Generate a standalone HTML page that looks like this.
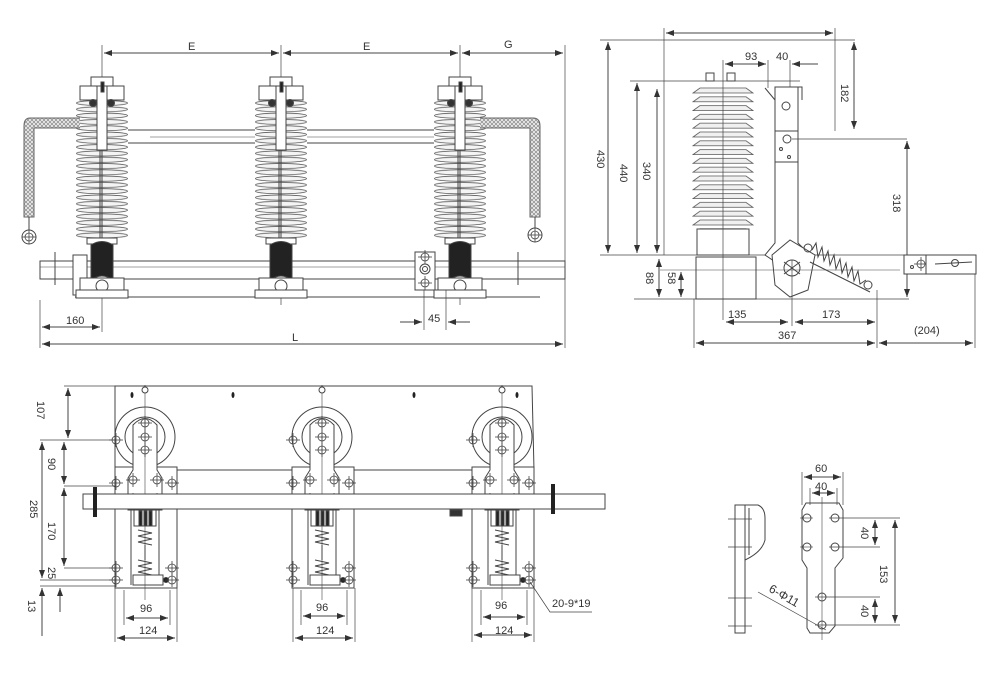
<!DOCTYPE html>
<html><head><meta charset="utf-8"><style>
html,body{margin:0;padding:0;background:#fff}
svg{display:block}
text{font-family:"Liberation Sans",sans-serif;font-size:11px;fill:#333}
</style></head><body>
<svg width="1000" height="690" viewBox="0 0 1000 690" xmlns="http://www.w3.org/2000/svg">
<defs>
<marker id="a" markerWidth="8" markerHeight="6" refX="8" refY="3" orient="auto-start-reverse" markerUnits="userSpaceOnUse"><path d="M0,0 L8,3 L0,6 z" fill="#333"/></marker>
<pattern id="shed" width="52" height="6.3" patternUnits="userSpaceOnUse" x="-26" y="100">
<rect width="52" height="6.3" fill="#fff"/>
<ellipse cx="26" cy="3" rx="25.5" ry="2.6" fill="#f4f4f4" stroke="#555" stroke-width="0.8"/>
</pattern>
<pattern id="shed2" width="62" height="8.8" patternUnits="userSpaceOnUse" x="692" y="87">
<rect width="62" height="8.8" fill="#fff"/>
<path d="M8,1 L54,1 L61,6 L1,6 Z" fill="#f0f0f0" stroke="#555" stroke-width="0.8"/>
</pattern>
<pattern id="braid" width="4" height="4" patternUnits="userSpaceOnUse">
<rect width="4" height="4" fill="#eee"/>
<path d="M0,0 L4,4 M4,0 L0,4" stroke="#888" stroke-width="0.7"/>
</pattern>
<g id="ins" stroke="#444" fill="none" stroke-width="1">
<rect x="-26" y="100" width="52" height="138" fill="url(#shed)" stroke="none"/>
<rect x="-11" y="77" width="22" height="9" fill="#fff"/>
<rect x="-22" y="86" width="44" height="14" fill="#fff"/>
<circle cx="-9" cy="103" r="3.5" fill="#333"/><circle cx="9" cy="103" r="3.5" fill="#333"/>
<rect x="-5" y="86" width="10" height="64" fill="#fff"/>
<rect x="-1" y="82" width="3" height="10" fill="#222"/>
<line x1="0" y1="150" x2="0" y2="240"/><line x1="-2" y1="150" x2="-2" y2="240"/>
<rect x="-15" y="238" width="30" height="6" fill="#fff"/>
<path d="M-11,245 Q0,238 11,245 L11,280 Q0,272 -11,280 Z" fill="#222"/>
<rect x="-22" y="278" width="44" height="12" fill="#fff"/>
<circle cx="0" cy="286" r="6" fill="#fff"/>
<rect x="-26" y="290" width="52" height="8" fill="#fff"/>
</g>
<g id="ch" stroke="#444" fill="none" stroke-width="0.8">
<circle r="4"/><line x1="-7" y1="0" x2="7" y2="0"/><line x1="0" y1="-7" x2="0" y2="7"/>
</g>
<g id="phase" stroke="#444" fill="none" stroke-width="1">
<rect x="115" y="467" width="62" height="121" fill="#fff"/>
<circle cx="145" cy="437" r="30" fill="#fff"/>
<circle cx="145" cy="437" r="20"/>
<path d="M133,470 L133,425 Q145,412 157,425 L157,470 L162,478 L162,510 L128,510 L128,478 Z" fill="#fff"/>
<line x1="131" y1="510" x2="131" y2="585"/><line x1="159" y1="510" x2="159" y2="585"/>
<rect x="134" y="510" width="22" height="16" fill="#fff"/>
<rect x="139" y="511" width="3" height="15" fill="#222"/><rect x="144" y="511" width="3" height="15" fill="#222"/><rect x="149" y="511" width="3" height="15" fill="#222"/>
<polyline points="138,530 152,533 138,536 152,539 138,542 152,545"/>
<line x1="145" y1="545" x2="145" y2="560"/>
<polyline points="138,560 152,563 138,566 152,569 138,572 152,575"/>
<rect x="133" y="575" width="30" height="10" fill="#fff"/>
<circle cx="166" cy="580" r="2.5" fill="#222"/>
<line x1="145" y1="385" x2="145" y2="600" stroke-width="0.6"/>
<circle cx="145" cy="390" r="3" fill="#fff"/>
<use href="#ch" x="145" y="423"/><use href="#ch" x="145" y="437"/><use href="#ch" x="145" y="450"/>
<use href="#ch" x="116" y="440"/><use href="#ch" x="116" y="483"/><use href="#ch" x="133" y="480"/><use href="#ch" x="157" y="480"/><use href="#ch" x="172" y="483"/>
<use href="#ch" x="133" y="500"/><use href="#ch" x="157" y="500"/>
<use href="#ch" x="116" y="568"/><use href="#ch" x="172" y="568"/><use href="#ch" x="116" y="580"/><use href="#ch" x="172" y="580"/>
</g>
</defs>

<g stroke="#444" fill="none" stroke-width="1">
<line x1="102" y1="45" x2="102" y2="332" stroke-width="0.7"/>
<line x1="281" y1="45" x2="281" y2="305" stroke-width="0.7"/>
<line x1="460" y1="45" x2="460" y2="305" stroke-width="0.7"/>
<line x1="565" y1="45" x2="565" y2="348" stroke-width="0.7"/>
<line x1="40" y1="300" x2="40" y2="348" stroke-width="0.7"/>
<line x1="104" y1="53" x2="279" y2="53" marker-start="url(#a)" marker-end="url(#a)"/>
<line x1="283" y1="53" x2="458" y2="53" marker-start="url(#a)" marker-end="url(#a)"/>
<line x1="462" y1="53" x2="563" y2="53" marker-start="url(#a)" marker-end="url(#a)"/>
<line x1="110" y1="130" x2="455" y2="130"/><line x1="110" y1="143" x2="455" y2="143"/>
<line x1="150" y1="137" x2="455" y2="137" stroke-width="0.6"/>
<rect x="40" y="261" width="525" height="18" fill="#fff"/>
<line x1="40" y1="267" x2="565" y2="267" stroke-width="0.6"/>
<line x1="75" y1="297" x2="540" y2="297"/>
<line x1="55" y1="252" x2="55" y2="285"/><line x1="518" y1="252" x2="518" y2="285"/>
<rect x="415" y="252" width="20" height="38" fill="#fff"/>
<circle cx="425" cy="269" r="5"/><circle cx="425" cy="269" r="2.5"/>
<use href="#ch" x="425" y="257"/><use href="#ch" x="425" y="283"/>
<rect x="73" y="255" width="14" height="40" fill="#fff"/>
<use href="#ins" x="102"/><use href="#ins" x="281"/><use href="#ins" x="460"/>
<path d="M80,118 L30,118 Q24,118 24,126 L24,217 L34,217 L34,128 L80,128" fill="url(#braid)" stroke="#666"/>
<path d="M480,118 L533,118 Q540,118 540,126 L540,217 L530,217 L530,128 L480,128" fill="url(#braid)" stroke="#666"/>
<line x1="29" y1="217" x2="29" y2="230"/><circle cx="29" cy="237" r="7" fill="#fff"/><use href="#ch" x="29" y="237"/>
<line x1="535" y1="217" x2="535" y2="228"/><circle cx="535" cy="235" r="7" fill="#fff"/><use href="#ch" x="535" y="235"/>
<line x1="42" y1="327" x2="100" y2="327" marker-start="url(#a)" marker-end="url(#a)"/>
<line x1="42" y1="344" x2="563" y2="344" marker-start="url(#a)" marker-end="url(#a)"/>
<line x1="424" y1="290" x2="424" y2="330" stroke-width="0.7"/><line x1="446" y1="290" x2="446" y2="330" stroke-width="0.7"/>
<line x1="400" y1="322" x2="422" y2="322" marker-end="url(#a)"/><line x1="470" y1="322" x2="448" y2="322" marker-end="url(#a)"/>

<line x1="600" y1="40" x2="855" y2="40" stroke-width="0.7"/>
<line x1="664" y1="28" x2="664" y2="255" stroke-width="0.7"/>
<line x1="835" y1="28" x2="835" y2="131" stroke-width="0.7"/>
<line x1="666" y1="33" x2="833" y2="33" marker-start="url(#a)" marker-end="url(#a)"/>
<line x1="608" y1="42" x2="608" y2="253" marker-start="url(#a)" marker-end="url(#a)"/>
<line x1="630" y1="81" x2="800" y2="81" stroke-width="0.7"/>
<line x1="637" y1="83" x2="637" y2="253" marker-start="url(#a)" marker-end="url(#a)"/>
<line x1="657" y1="89" x2="657" y2="253" marker-start="url(#a)" marker-end="url(#a)"/>
<line x1="854" y1="42" x2="854" y2="129" marker-start="url(#a)" marker-end="url(#a)"/>
<line x1="600" y1="255" x2="976" y2="255" stroke-width="0.8"/>
<line x1="634" y1="299" x2="909" y2="299" stroke-width="0.8"/>
<rect x="692" y="87" width="62" height="142" fill="url(#shed2)" stroke="none"/>
<rect x="697" y="229" width="52" height="26" fill="#fff"/>
<rect x="696" y="257" width="60" height="42" fill="#fff"/>
<rect x="706" y="73" width="8" height="8"/><rect x="727" y="73" width="8" height="8"/>
<line x1="723" y1="60" x2="723" y2="320" stroke-width="0.7"/>
<line x1="725" y1="64" x2="766" y2="64" marker-start="url(#a)" marker-end="url(#a)"/>
<line x1="768" y1="60" x2="768" y2="88" stroke-width="0.7"/>
<line x1="790" y1="60" x2="790" y2="88" stroke-width="0.7"/>
<line x1="818" y1="64" x2="792" y2="64" marker-end="url(#a)"/>
<path d="M775,87 L798,87 L798,131 L775,131 Z" fill="#fff"/>
<circle cx="786" cy="106" r="4"/>
<path d="M765,88 L775,100" /><path d="M798,87 L802,87 L802,100"/>
<path d="M775,131 L798,131 L798,243 L805,250 L780,265 L765,255 L775,243 Z" fill="#fff"/>
<line x1="775" y1="162" x2="798" y2="162"/>
<circle cx="787" cy="139" r="4"/><circle cx="781" cy="149" r="1.5"/><circle cx="789" cy="157" r="1.5"/>
<line x1="792" y1="139" x2="907" y2="139" stroke-width="0.7"/>
<line x1="907" y1="141" x2="907" y2="297" marker-start="url(#a)" marker-end="url(#a)"/>
<path d="M772,255 L790,240 L815,255 L808,290 L790,297 L775,285 Z" fill="#fff"/>
<circle cx="792" cy="268" r="8"/><line x1="784" y1="262" x2="800" y2="274"/><line x1="800" y1="262" x2="784" y2="274"/>
<circle cx="808" cy="248" r="4"/><circle cx="868" cy="285" r="4"/>
<polyline points="812,250 816,243 818,257 822,247 824,261 828,251 830,265 834,255 836,269 840,259 842,273 846,263 848,277 852,267 854,281 858,271 860,284 866,280" stroke-width="1"/>
<line x1="810" y1="262" x2="870" y2="292"/>
<rect x="904" y="255" width="22" height="19" fill="#fff"/><use href="#ch" x="921" y="264"/><circle cx="912" cy="267" r="1.5"/>
<rect x="926" y="255" width="50" height="19" fill="#fff"/><circle cx="955" cy="263" r="3.5"/><line x1="935" y1="264" x2="972" y2="262"/>
<line x1="660" y1="270" x2="900" y2="270" stroke-width="0.6"/>
<line x1="659" y1="259" x2="659" y2="297" marker-start="url(#a)" marker-end="url(#a)"/>
<line x1="681" y1="272" x2="681" y2="297" marker-start="url(#a)" marker-end="url(#a)"/>
<line x1="694" y1="299" x2="694" y2="348" stroke-width="0.7"/>
<line x1="792" y1="260" x2="792" y2="326" stroke-width="0.7"/>
<line x1="877" y1="290" x2="877" y2="348" stroke-width="0.7"/>
<line x1="975" y1="274" x2="975" y2="348" stroke-width="0.7"/>
<line x1="726" y1="322" x2="788" y2="322" marker-start="url(#a)" marker-end="url(#a)"/>
<line x1="795" y1="322" x2="875" y2="322" marker-start="url(#a)" marker-end="url(#a)"/>
<line x1="696" y1="343" x2="875" y2="343" marker-start="url(#a)" marker-end="url(#a)"/>
<line x1="879" y1="343" x2="973" y2="343" marker-start="url(#a)" marker-end="url(#a)"/>

<line x1="64" y1="386" x2="532" y2="386" stroke-width="0.8"/>
<path d="M115,386 L532,386 L534,470 L115,470 Z" fill="#fff"/>
<use href="#phase"/>
<use href="#phase" x="177"/>
<use href="#phase" x="357"/>
<rect x="83" y="494" width="522" height="15" fill="#fff"/>
<rect x="93" y="487" width="4" height="30" fill="#222" stroke="none"/>
<rect x="551" y="484" width="4" height="30" fill="#222" stroke="none"/>
<path d="M450,510 L462,510 L462,516 L450,516 Z" fill="#333"/>
<ellipse cx="132" cy="395" rx="1.5" ry="3" fill="#222" stroke="none"/>
<ellipse cx="233" cy="395" rx="1.5" ry="3" fill="#222" stroke="none"/>
<ellipse cx="414" cy="395" rx="1.5" ry="3" fill="#222" stroke="none"/>
<ellipse cx="517" cy="395" rx="1.5" ry="3" fill="#222" stroke="none"/>
<line x1="68" y1="388" x2="68" y2="438" marker-start="url(#a)" marker-end="url(#a)"/>
<line x1="40" y1="440" x2="116" y2="440" stroke-width="0.7"/>
<line x1="64" y1="442" x2="64" y2="484" marker-start="url(#a)" marker-end="url(#a)"/>
<line x1="64" y1="486" x2="116" y2="486" stroke-width="0.7"/>
<line x1="64" y1="488" x2="64" y2="566" marker-start="url(#a)" marker-end="url(#a)"/>
<line x1="64" y1="568" x2="116" y2="568" stroke-width="0.7"/>
<line x1="42" y1="442" x2="42" y2="578" marker-start="url(#a)" marker-end="url(#a)"/>
<line x1="40" y1="580" x2="116" y2="580" stroke-width="0.7"/>
<line x1="40" y1="586" x2="116" y2="586" stroke-width="0.7"/>
<line x1="42" y1="636" x2="42" y2="588" marker-end="url(#a)"/>
<line x1="60" y1="612" x2="60" y2="588" marker-end="url(#a)"/>
<line x1="124" y1="590" x2="124" y2="625" stroke-width="0.7"/><line x1="170" y1="590" x2="170" y2="625" stroke-width="0.7"/>
<line x1="115" y1="588" x2="115" y2="642" stroke-width="0.7"/><line x1="177" y1="588" x2="177" y2="642" stroke-width="0.7"/>
<line x1="126" y1="618" x2="168" y2="618" marker-start="url(#a)" marker-end="url(#a)"/>
<line x1="117" y1="638" x2="175" y2="638" marker-start="url(#a)" marker-end="url(#a)"/>
<line x1="301" y1="590" x2="301" y2="625" stroke-width="0.7"/><line x1="347" y1="590" x2="347" y2="625" stroke-width="0.7"/>
<line x1="293" y1="588" x2="293" y2="642" stroke-width="0.7"/><line x1="355" y1="588" x2="355" y2="642" stroke-width="0.7"/>
<line x1="303" y1="616" x2="345" y2="616" marker-start="url(#a)" marker-end="url(#a)"/>
<line x1="295" y1="638" x2="353" y2="638" marker-start="url(#a)" marker-end="url(#a)"/>
<line x1="481" y1="590" x2="481" y2="625" stroke-width="0.7"/><line x1="527" y1="590" x2="527" y2="625" stroke-width="0.7"/>
<line x1="472" y1="588" x2="472" y2="642" stroke-width="0.7"/><line x1="534" y1="588" x2="534" y2="642" stroke-width="0.7"/>
<line x1="483" y1="617" x2="525" y2="617" marker-start="url(#a)" marker-end="url(#a)"/>
<line x1="474" y1="635" x2="532" y2="635" marker-start="url(#a)" marker-end="url(#a)"/>
<polyline points="530,582 550,612 592,612" stroke-width="0.7"/>

<rect x="735" y="505" width="10" height="128" fill="#fff"/>
<path d="M745,505 L758,505 Q765,508 765,518 L765,540 Q762,552 745,560" />
<path d="M749,508 L749,555"/>
<line x1="728" y1="519" x2="752" y2="519" stroke-width="0.7"/><line x1="728" y1="547" x2="752" y2="547" stroke-width="0.7"/>
<line x1="728" y1="598" x2="752" y2="598" stroke-width="0.7"/><line x1="728" y1="626" x2="752" y2="626" stroke-width="0.7"/>
<path d="M806,503 L839,503 L843,510 L843,558 L835,568 L835,626 L829,633 L810,633 L807,628 L807,568 L802,560 L802,510 Z" fill="#fff"/>
<line x1="822" y1="497" x2="822" y2="640" stroke-width="0.6"/>
<circle cx="807" cy="518" r="4"/><circle cx="835" cy="518" r="4"/><circle cx="807" cy="547" r="4"/><circle cx="835" cy="547" r="4"/>
<circle cx="822" cy="597" r="4"/><circle cx="822" cy="625" r="4"/>
<line x1="800" y1="518" x2="813" y2="518" stroke-width="0.6"/><line x1="829" y1="518" x2="900" y2="518" stroke-width="0.7"/>
<line x1="800" y1="547" x2="813" y2="547" stroke-width="0.6"/><line x1="829" y1="547" x2="880" y2="547" stroke-width="0.7"/>
<line x1="815" y1="597" x2="880" y2="597" stroke-width="0.7"/>
<line x1="815" y1="625" x2="900" y2="625" stroke-width="0.7"/>
<line x1="802" y1="472" x2="802" y2="505" stroke-width="0.7"/><line x1="843" y1="472" x2="843" y2="505" stroke-width="0.7"/>
<line x1="810" y1="488" x2="810" y2="505" stroke-width="0.7"/><line x1="837" y1="488" x2="837" y2="505" stroke-width="0.7"/>
<line x1="804" y1="477" x2="841" y2="477" marker-start="url(#a)" marker-end="url(#a)"/>
<line x1="812" y1="493" x2="835" y2="493" marker-start="url(#a)" marker-end="url(#a)"/>
<line x1="875" y1="520" x2="875" y2="545" marker-start="url(#a)" marker-end="url(#a)"/>
<line x1="875" y1="599" x2="875" y2="623" marker-start="url(#a)" marker-end="url(#a)"/>
<line x1="895" y1="520" x2="895" y2="623" marker-start="url(#a)" marker-end="url(#a)"/>
<line x1="758" y1="592" x2="826" y2="630" stroke-width="0.7"/>
</g>

<text x="188" y="50">E</text><text x="363" y="50">E</text><text x="504" y="48">G</text>
<text x="66" y="324">160</text><text x="292" y="341">L</text><text x="428" y="322">45</text>
<text x="745" y="60">93</text><text x="776" y="60">40</text>
<text x="728" y="318">135</text><text x="822" y="318">173</text><text x="778" y="339">367</text><text x="914" y="334">(204)</text>
<text transform="translate(597,150) rotate(90)">430</text>
<text transform="translate(620,164) rotate(90)">440</text>
<text transform="translate(643,162) rotate(90)">340</text>
<text transform="translate(841,84) rotate(90)">182</text>
<text transform="translate(893,194) rotate(90)">318</text>
<text transform="translate(646,272) rotate(90)">88</text>
<text transform="translate(668,272) rotate(90)">58</text>
<text transform="translate(37,401) rotate(90)">107</text>
<text transform="translate(48,458) rotate(90)">90</text>
<text transform="translate(30,500) rotate(90)">285</text>
<text transform="translate(48,522) rotate(90)">170</text>
<text transform="translate(48,567) rotate(90)">25</text>
<text transform="translate(28,600) rotate(90)">13</text>
<text x="140" y="612">96</text><text x="139" y="634">124</text>
<text x="316" y="611">96</text><text x="316" y="634">124</text>
<text x="495" y="609">96</text><text x="495" y="634">124</text>
<text x="552" y="607">20-9*19</text>
<text x="815" y="472">60</text><text x="815" y="490">40</text>
<text transform="translate(861,527) rotate(90)">40</text>
<text transform="translate(861,605) rotate(90)">40</text>
<text transform="translate(880,565) rotate(90)">153</text>
<text transform="translate(768,591) rotate(30)" style="font-size:12px">6-Φ11</text>
</svg>
</body></html>
